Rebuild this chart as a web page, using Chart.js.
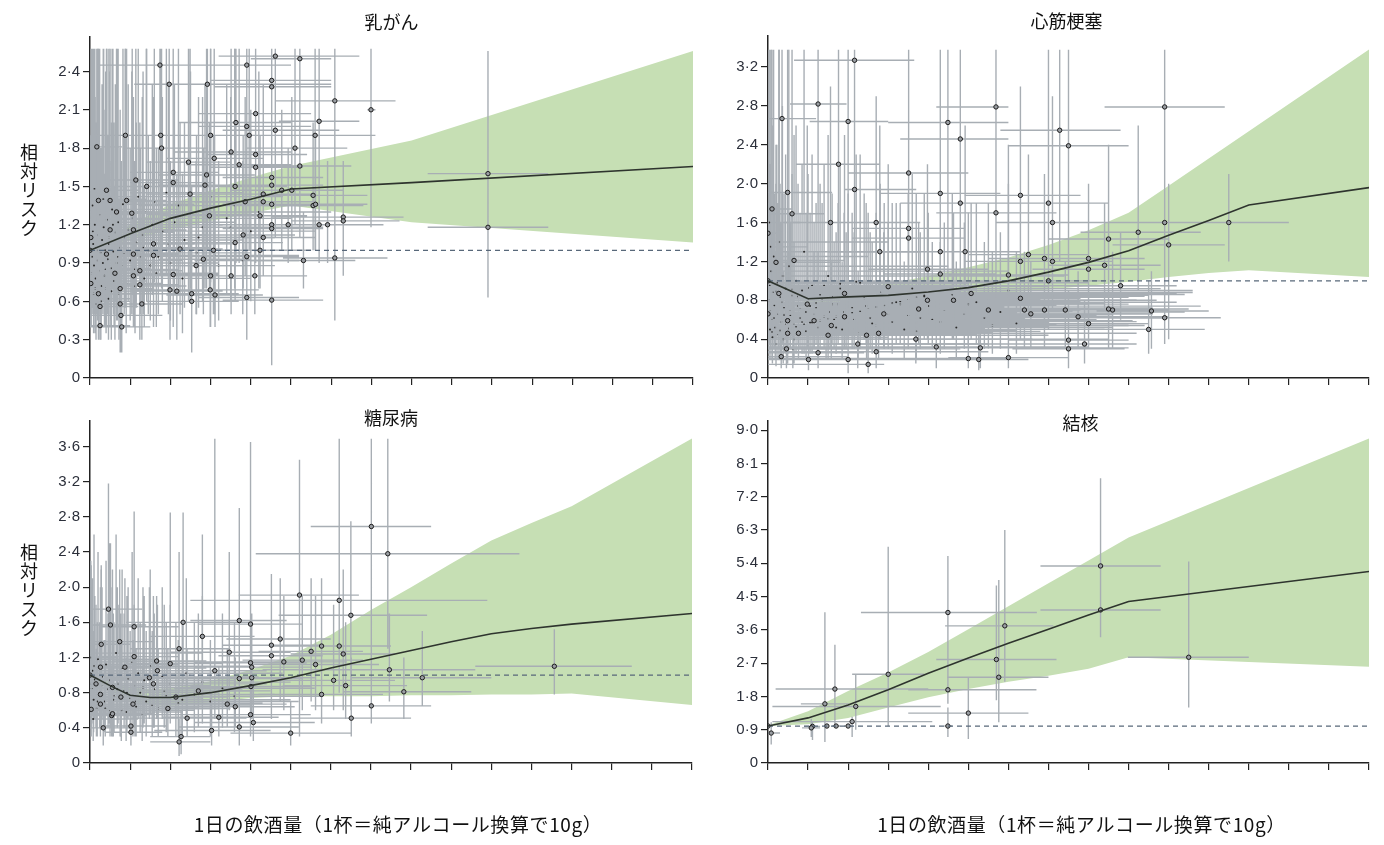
<!DOCTYPE html>
<html lang="ja">
<head>
<meta charset="utf-8">
<title>飲酒量と相対リスク</title>
<script src="https://cdn.jsdelivr.net/npm/chart.js@4.4.1/dist/chart.umd.min.js"></script>
<style>
  body { margin: 0; background: #fff; }
  canvas { position: absolute; }
</style>
</head>
<body>
<canvas id="cBreast" width="700" height="400" style="left:0;top:0"></canvas>
<canvas id="cHeart" width="684" height="400" style="left:700px;top:0"></canvas>
<canvas id="cDiab" width="700" height="445" style="left:0;top:400px"></canvas>
<canvas id="cTb" width="684" height="445" style="left:700px;top:400px"></canvas>

<script>
// ---- data ----
// x axis: drinks per day, 0..15
const xTicks = [0,1,2,3,4,5,6,7,8,9,10,11,12,13,14,15];
const xTitle = '1日の飲酒量（1杯＝純アルコール換算で10g）';
const yTitle = '相対リスク';

// study rows: [x, y, xLo, xHi, yLo, yHi]
// "...Rows" are the marked studies, "...Dense" the small ones in the grey mass

// 乳がん
const breastTicks = [0,0.3,0.6,0.9,1.2,1.5,1.8,2.1,2.4];
const breastNodes = [0,1,2,3,4,5,8,15];
const breastCurve = [1.0,1.13,1.25,1.33,1.40,1.48,1.53,1.656];
const breastUpper = [1.0,1.20,1.36,1.47,1.57,1.66,1.86,2.56];
const breastLower = [1.0,1.08,1.16,1.23,1.29,1.35,1.22,1.06];
const breastRows = [
  [1.74,2.45,0.2,3.2,1.0,2.58],[1.97,2.30,1.1,3.0,0.9,2.58],[2.92,2.30,2.2,6.0,1.0,2.58],
  [3.90,2.45,2.6,5.0,0.8,2.58],[4.61,2.52,3.2,6.7,1.1,2.58],[5.22,2.50,4.0,6.0,1.2,2.58],
  [4.52,2.33,3.0,6.0,1.0,2.58],[4.52,2.28,3.1,6.0,0.9,2.58],[6.09,2.17,4.6,7.6,0.6,2.58],
  [6.99,2.10,6.9,7.1,1.18,2.58],[4.12,2.07,2.7,5.5,1.0,2.58],[5.70,2.01,4.7,6.7,1.1,2.58],
  [3.63,2.00,2.2,5.0,0.9,2.58],[3.90,1.97,2.7,5.5,1.0,2.58],[4.61,1.94,3.3,6.2,1.1,2.58],
  [5.60,1.90,4.3,7.1,1.0,2.58],[0.88,1.90,0.1,2.0,0.6,2.58],[1.76,1.90,0.7,3.2,0.8,2.58],
  [3.00,1.90,1.8,4.4,0.8,2.58],[3.96,1.90,2.6,5.4,1.0,2.58],[1.78,1.80,0.9,2.9,0.7,2.58],
  [5.10,1.80,3.9,6.4,1.2,2.58],[3.51,1.77,2.1,5.0,0.7,2.58],[4.12,1.75,2.9,5.4,0.9,2.58],
  [3.09,1.72,1.9,4.3,0.8,2.58],[2.45,1.69,1.4,3.5,0.6,2.58],[3.71,1.67,2.4,5.0,0.9,2.58],
  [4.12,1.65,3.0,5.3,1.0,2.40],[5.22,1.66,4.0,6.5,1.1,2.58],[2.07,1.61,1.0,3.2,0.7,2.58],
  [2.90,1.59,1.7,4.1,0.7,2.58],[4.52,1.57,3.3,5.8,1.0,2.20],[1.41,1.50,0.5,2.4,0.6,2.58],
  [2.07,1.53,1.0,3.1,0.6,2.40],[2.86,1.51,1.7,4.0,0.7,2.30],[3.61,1.50,2.3,4.9,0.8,2.58],
  [4.52,1.51,3.2,5.8,1.0,2.20],[5.55,1.43,4.2,6.9,1.0,2.00],[4.31,1.44,3.0,5.6,0.9,2.30],
  [4.77,1.47,3.5,6.0,1.0,2.10],[2.49,1.44,1.4,3.6,0.6,2.58],[0.50,1.39,0.0,1.5,0.6,2.58],
  [0.91,1.39,0.2,1.9,0.7,2.58],[3.86,1.38,2.6,5.1,0.8,2.20],[5.55,1.35,4.3,6.8,1.0,1.90],
  [6.30,1.26,4.5,7.8,0.8,1.70],[6.30,1.23,5.0,7.7,0.8,1.70],[4.31,1.38,3.0,5.6,0.9,2.10],
  [4.52,1.36,3.3,5.7,1.0,2.00],[2.97,1.27,1.8,4.2,0.7,2.00],[4.23,1.27,3.0,5.4,0.9,1.90],
  [4.52,1.20,3.2,5.9,0.8,1.90],[4.93,1.20,3.7,6.2,0.9,1.80],[5.70,1.20,4.4,7.0,0.9,1.80],
  [5.91,1.20,4.6,7.3,0.9,1.70],[4.52,1.17,3.3,5.8,0.8,1.80],[3.81,1.12,2.6,5.1,0.7,1.90],
  [4.31,1.10,3.1,5.6,0.8,1.70],[3.61,1.06,2.4,4.8,0.6,1.80],[3.07,1.00,1.8,4.3,0.5,1.90],
  [1.58,1.05,0.6,2.6,0.5,2.10],[2.24,1.01,1.1,3.3,0.5,2.00],[4.23,1.00,3.0,5.5,0.7,1.60],
  [3.90,0.95,2.7,5.2,0.6,1.60],[2.82,0.93,1.7,4.0,0.5,1.80],[5.31,0.92,4.0,6.6,0.7,1.30],
  [6.09,0.94,4.8,7.4,0.45,1.30],[2.64,0.88,1.5,3.8,0.5,1.70],[1.58,0.96,0.6,2.6,0.4,2.20],
  [1.24,0.84,0.3,2.3,0.4,2.00],[2.07,0.81,1.0,3.2,0.4,1.80],[3.51,0.80,2.3,4.8,0.5,1.50],
  [4.10,0.80,2.9,5.4,0.5,1.40],[3.00,0.80,1.9,4.2,0.4,1.60],[1.08,0.80,0.2,2.1,0.4,1.90],
  [1.24,0.73,0.3,2.2,0.3,1.90],[1.99,0.69,1.0,3.1,0.3,1.70],[2.16,0.68,1.1,3.3,0.3,1.60],
  [2.53,0.66,1.4,3.7,0.3,1.50],[3.11,0.65,1.9,4.3,0.4,1.30],[2.99,0.69,1.8,4.2,0.4,1.40],
  [3.90,0.63,2.7,5.2,0.3,1.20],[4.52,0.61,3.3,5.8,0.1,1.30],[2.53,0.60,1.4,3.7,0.2,1.30],
  [1.29,0.58,0.4,2.3,0.3,1.40],[0.75,0.58,0.0,1.7,0.2,1.50],[0.25,0.56,0.0,1.2,0.3,1.70],
  [0.77,0.49,0.0,1.8,0.2,1.30],[0.79,0.40,0.0,1.5,0.2,1.00],[0.25,0.41,0.0,1.0,0.3,1.00],
  [0.21,0.66,0.0,1.0,0.3,2.30],[0.21,1.39,0.0,1.0,0.6,2.58],[0.17,1.81,0.0,0.8,0.6,2.58],
  [0.41,1.47,0.0,1.2,0.6,2.58],[1.14,1.55,0.3,2.2,0.6,2.58],[1.04,1.29,0.2,2.0,0.5,2.40],
  [0.66,1.30,0.0,1.6,0.5,2.58],[1.08,1.16,0.2,2.1,0.5,2.20],[0.50,1.16,0.0,1.5,0.4,2.40],
  [0.00,1.00,0.0,0.0,1.0,1.0],[0.02,1.10,0.0,0.6,0.6,1.90],[0.02,0.74,0.0,0.5,0.4,1.50],
  [0.41,0.97,0.0,1.3,0.4,2.20],[0.62,0.82,0.0,1.5,0.3,2.00],[0.75,0.70,0.0,1.6,0.3,1.80],
  [1.08,0.97,0.2,2.0,0.4,2.10],[5.02,1.47,3.8,6.3,1.0,2.2],[5.61,1.36,4.3,6.9,1.0,1.9],
  [9.90,1.60,8.4,11.4,0.95,2.56],[9.90,1.18,8.4,11.4,0.63,2.20]
];
const breastDense = [
  [0.05,0.95,0.0,0.4,0.55,1.6],[0.08,1.05,0.0,0.5,0.6,2.58],[0.10,0.88,0.0,0.6,0.5,1.7],
  [0.12,1.20,0.0,0.7,0.6,2.58],[0.14,0.78,0.0,0.5,0.45,1.5],[0.16,1.02,0.0,0.9,0.55,2.0],
  [0.18,0.92,0.0,0.8,0.5,1.9],[0.20,1.12,0.0,1.1,0.6,2.58],[0.22,0.84,0.0,0.9,0.45,1.6],
  [0.24,1.28,0.0,1.0,0.7,2.58],[0.26,0.98,0.0,1.2,0.5,1.8],[0.28,0.72,0.0,0.9,0.4,1.4],
  [0.30,1.08,0.0,1.4,0.6,2.3],[0.32,0.90,0.0,1.3,0.5,1.7],[0.34,1.18,0.0,1.5,0.6,2.58],
  [0.36,0.80,0.0,1.1,0.4,1.6],[0.38,1.00,0.0,1.6,0.5,2.1],[0.40,0.70,0.0,1.2,0.35,1.5],
  [0.42,1.24,0.0,1.8,0.7,2.58],[0.44,0.93,0.0,1.4,0.5,1.9],[0.46,0.62,0.0,1.0,0.3,1.3],
  [0.48,1.10,0.0,2.0,0.6,2.4],[0.52,0.86,0.0,1.5,0.45,1.7],[0.55,1.32,0.0,2.2,0.7,2.58],
  [0.58,0.99,0.0,1.8,0.5,2.0],[0.60,0.76,0.0,1.4,0.4,1.5],[0.63,1.14,0.0,2.1,0.6,2.3],
  [0.66,0.90,0.0,1.7,0.45,1.8],[0.70,1.22,0.0,2.4,0.65,2.58],[0.72,0.66,0.0,1.4,0.3,1.4],
  [0.75,1.02,0.0,2.0,0.55,2.1],[0.78,0.88,0.0,1.9,0.4,1.7],[0.82,1.36,0.1,2.6,0.7,2.58],
  [0.85,0.97,0.1,2.2,0.5,1.9],[0.90,0.74,0.1,1.8,0.35,1.5],[0.95,1.16,0.1,2.4,0.6,2.3],
  [1.00,0.92,0.2,2.3,0.45,1.8],[1.05,1.25,0.2,2.8,0.65,2.58],[1.10,0.85,0.2,2.2,0.4,1.7],
  [1.15,1.06,0.3,2.6,0.55,2.0],[1.20,1.42,0.3,3.0,0.8,2.58],[1.25,0.95,0.4,2.5,0.5,1.8],
  [1.30,1.12,0.4,2.9,0.6,2.2],[1.35,0.78,0.4,2.4,0.4,1.5],[1.40,1.30,0.5,3.2,0.7,2.58],
  [1.45,1.00,0.5,2.8,0.5,1.9],[1.50,0.88,0.6,2.6,0.45,1.7],[1.55,1.20,0.6,3.3,0.65,2.3],
  [1.60,1.38,0.7,3.6,0.75,2.58],[1.70,0.95,0.8,3.0,0.5,1.8],[1.80,1.15,0.9,3.4,0.6,2.2],
  [1.90,1.45,1.0,3.8,0.8,2.58],[2.00,0.90,1.0,3.2,0.45,1.7],[2.10,1.22,1.1,3.6,0.65,2.3],
  [2.20,1.35,1.2,3.9,0.7,2.58],[2.35,1.08,1.3,3.8,0.55,2.0],[2.50,1.28,1.4,4.2,0.7,2.4],
  [2.65,0.98,1.5,4.0,0.5,1.9],[2.80,1.18,1.6,4.5,0.6,2.2],[3.00,1.42,1.8,4.8,0.75,2.58],
  [3.20,0.88,2.0,4.6,0.45,1.7],[3.40,1.25,2.2,5.0,0.65,2.3],[3.60,1.35,2.4,5.4,0.7,2.58],
  [3.80,0.92,2.6,5.2,0.5,1.7],[4.00,1.15,2.8,5.6,0.6,2.1],[4.20,1.30,3.0,6.0,0.7,2.4],
  [0.06,1.35,0.0,0.5,0.7,2.58],[0.09,0.66,0.0,0.4,0.35,1.4],[0.11,1.48,0.0,0.6,0.75,2.58],
  [0.15,0.58,0.0,0.5,0.3,1.2],[0.03,0.82,0.0,0.6,0.4,2.58],[0.07,1.15,0.0,0.8,0.5,2.58],
  [0.13,0.70,0.0,0.9,0.35,2.2],[0.19,1.00,0.0,1.2,0.45,2.58],[0.27,0.60,0.0,1.0,0.3,1.8],
  [0.33,1.40,0.0,1.4,0.7,2.58],[0.39,0.85,0.0,1.6,0.4,2.4],[0.47,1.05,0.0,1.7,0.5,2.58],
  [0.53,0.68,0.0,1.5,0.3,2.0],[0.57,1.20,0.0,2.0,0.6,2.58],[0.68,0.95,0.0,2.2,0.45,2.58],
  [0.88,1.10,0.0,2.6,0.55,2.58],[1.12,0.72,0.2,2.4,0.35,1.7],[1.32,1.02,0.3,3.0,0.5,2.4],
  [1.65,0.82,0.6,3.2,0.4,1.8],[1.95,1.05,0.9,3.6,0.5,2.3],[2.30,0.78,1.2,4.0,0.35,1.6],
  [2.70,1.10,1.6,4.6,0.55,2.2],[3.10,0.96,2.0,5.2,0.5,1.9],[3.50,1.18,2.4,5.8,0.6,2.2]
];

// 心筋梗塞
const heartTicks = [0,0.4,0.8,1.2,1.6,2.0,2.4,2.8,3.2];
const heartNodes = [0,1,2,3,4,5,6,7,8,9,10,11,12,15];
const heartCurve = [1.0,0.816,0.835,0.85,0.885,0.93,1.0,1.09,1.19,1.31,1.47,1.62,1.78,1.96];
const heartUpper = [1.0,0.88,0.92,0.97,1.05,1.14,1.24,1.37,1.52,1.70,1.98,2.26,2.54,3.38];
const heartLower = [1.0,0.76,0.78,0.80,0.82,0.85,0.88,0.91,0.95,0.99,1.04,1.08,1.11,1.04];
const heartRows = [
  [2.16,3.27,0.65,3.65,0.4,3.38],[1.25,2.82,0.55,1.96,0.9,3.38],[0.35,2.67,0.0,1.2,0.6,3.38],
  [2.00,2.64,1.04,3.0,0.5,3.38],[4.49,2.63,3.0,6.0,1.0,3.38],[5.69,2.79,4.2,6.0,1.3,3.38],
  [4.80,2.46,3.3,6.0,1.0,3.38],[7.28,2.55,5.8,8.8,1.2,3.38],[7.50,2.39,6.0,9.0,1.0,3.38],
  [9.90,2.79,8.4,11.4,0.9,3.38],[1.76,2.20,0.7,2.8,0.6,3.38],[2.16,1.94,1.9,3.7,0.5,3.38],
  [3.51,2.11,2.0,5.0,0.7,3.38],[4.30,1.90,2.8,5.8,0.8,3.38],[0.49,1.91,0.0,1.6,0.4,3.38],
  [0.60,1.69,0.0,1.4,0.5,3.38],[1.56,1.60,0.4,2.5,0.4,3.0],[2.70,1.60,1.8,3.8,0.5,2.9],
  [4.80,1.80,3.3,6.0,0.7,3.38],[5.69,1.70,4.2,7.2,0.8,3.38],[6.30,1.88,4.9,7.8,0.9,3.0],
  [7.00,1.80,5.5,8.5,0.8,3.38],[7.10,1.60,5.7,8.6,0.7,2.9],[9.90,1.60,8.4,11.4,0.9,2.8],
  [11.5,1.60,10.0,13.0,1.2,2.1],[9.24,1.50,7.8,10.8,0.9,2.6],[10.0,1.37,8.6,11.4,0.4,2.0],
  [8.50,1.43,7.0,10.0,0.8,2.4],[4.30,1.30,2.9,5.8,0.5,2.5],[4.92,1.30,3.5,6.3,0.6,2.6],
  [3.51,1.54,2.1,4.9,0.5,3.0],[3.51,1.44,2.1,4.9,0.5,3.0],[2.79,1.30,1.5,4.1,0.4,2.6],
  [6.50,1.27,5.0,8.0,0.7,2.3],[6.30,1.20,4.9,7.7,0.6,2.3],[6.90,1.23,5.5,8.4,0.8,2.1],
  [7.10,1.20,5.6,8.6,0.7,2.2],[8.00,1.23,6.6,9.4,0.8,2.0],[8.00,1.12,6.6,9.4,0.7,1.9],
  [8.40,1.16,7.0,9.8,0.7,1.8],[3.98,1.12,2.5,5.5,0.5,2.2],[4.30,1.07,2.9,5.7,0.5,2.3],
  [7.00,1.00,5.6,8.4,0.5,2.0],[6.00,1.06,4.5,7.5,0.5,2.4],[0.00,1.49,0.0,0.3,0.9,3.38],
  [0.00,0.66,0.0,9.0,0.3,1.5],[0.00,1.00,0.0,0.0,1.0,1.0],[0.10,1.74,0.0,0.6,0.5,3.38],
  [0.20,1.19,0.0,1.8,0.4,2.4],[0.65,1.21,0.0,1.9,0.4,2.5],[8.80,0.95,7.4,10.2,0.6,1.5],
  [8.50,0.71,7.0,10.0,0.3,1.2],[8.60,0.70,7.2,10.0,0.3,1.3],[9.57,0.69,8.2,11.0,0.3,1.1],
  [9.90,0.62,8.5,11.3,0.35,1.6],[9.50,0.50,8.0,10.9,0.25,1.0],[8.00,0.56,6.5,9.5,0.3,1.0],
  [7.74,0.63,6.3,9.2,0.3,1.1],[7.42,0.70,0.0,9.0,0.3,1.2],[6.90,0.70,0.0,8.5,0.3,1.3],
  [6.40,0.70,0.0,8.0,0.3,1.3],[6.56,0.66,0.0,8.0,0.3,1.2],[6.30,0.82,0.0,7.8,0.4,1.4],
  [7.90,0.35,6.5,9.2,0.15,0.8],[7.50,0.39,6.0,9.0,0.15,0.9],[7.50,0.30,6.1,8.9,0.1,0.6],
  [6.00,0.21,4.5,7.5,0.1,0.5],[5.26,0.19,0.0,6.5,0.08,0.45],[5.00,0.20,0.0,6.0,0.1,0.5],
  [2.50,0.14,0.0,2.9,0.05,0.4],[2.00,0.19,0.0,3.0,0.05,0.5],[1.01,0.19,0.0,1.6,0.08,0.5],
  [1.25,0.26,0.0,2.4,0.1,0.6],[0.46,0.30,0.0,2.0,0.1,0.8],[0.76,0.46,0.0,4.0,0.2,1.0],
  [1.50,0.44,0.0,6.0,0.2,1.0],[2.46,0.44,0.0,7.0,0.2,0.9],[2.70,0.27,0.0,5.5,0.1,0.6],
  [3.69,0.40,0.0,8.5,0.15,0.9],[4.20,0.32,0.0,8.0,0.1,0.8],[5.30,0.31,0.0,9.0,0.1,0.7],
  [2.76,0.46,0.0,9.2,0.2,1.0],[1.58,0.54,0.0,9.4,0.2,1.2],[2.24,0.35,0.0,7.5,0.1,0.9],
  [0.33,0.22,0.0,2.0,0.1,0.6],[0.49,0.59,0.0,8.0,0.2,1.5],[1.15,0.59,0.0,9.1,0.3,1.3],
  [1.91,0.63,0.0,10.0,0.3,1.4],[2.89,0.66,0.0,9.6,0.3,1.5],[3.76,0.71,0.0,10.5,0.35,1.6],
  [4.63,0.80,0.0,9.7,0.4,1.7],[5.50,0.70,0.0,9.0,0.3,1.8],[5.07,0.87,0.0,10.2,0.4,1.8],
  [3.98,0.80,0.0,8.8,0.4,2.0],[3.00,0.94,0.0,7.0,0.5,2.2],[1.91,0.87,0.0,6.0,0.4,2.5],
  [0.98,0.76,0.0,8.0,0.3,2.6],[0.27,0.87,0.0,5.0,0.3,3.38],[0.49,0.46,0.0,8.5,0.15,1.2]
];
const heartDense = [
  [0.02,0.80,0.0,4.5,0.35,1.8],[0.04,0.95,0.0,5.5,0.45,2.2],[0.06,0.70,0.0,3.5,0.3,1.6],
  [0.08,1.10,0.0,6.0,0.5,3.38],[0.10,0.60,0.0,4.0,0.25,1.5],[0.12,0.88,0.0,7.0,0.4,2.6],
  [0.14,1.25,0.0,2.5,0.6,3.38],[0.16,0.75,0.0,6.5,0.3,1.9],[0.18,0.52,0.0,5.0,0.2,1.3],
  [0.22,0.98,0.0,8.0,0.45,2.4],[0.25,0.66,0.0,7.5,0.3,1.8],[0.28,1.40,0.0,3.0,0.7,3.38],
  [0.30,0.83,0.0,8.5,0.4,2.0],[0.33,0.58,0.0,6.0,0.25,1.6],[0.36,1.05,0.0,5.0,0.5,2.8],
  [0.40,0.72,0.0,9.0,0.3,1.9],[0.44,0.92,0.0,7.8,0.4,2.3],[0.48,0.48,0.0,6.8,0.2,1.2],
  [0.52,1.15,0.0,4.5,0.55,3.38],[0.56,0.64,0.0,8.2,0.3,1.6],[0.60,0.85,0.0,9.5,0.4,2.1],
  [0.65,0.55,0.0,7.2,0.25,1.4],[0.70,1.00,0.0,6.2,0.5,2.6],[0.75,0.74,0.0,9.8,0.35,1.8],
  [0.80,0.62,0.0,8.8,0.3,1.5],[0.85,0.90,0.0,7.6,0.45,2.2],[0.90,1.30,0.0,3.8,0.65,3.38],
  [0.95,0.68,0.0,10.2,0.3,1.7],[1.00,0.80,0.0,9.2,0.4,1.9],[1.05,0.57,0.0,7.0,0.25,1.4],
  [1.10,0.95,0.0,8.4,0.45,2.3],[1.20,0.72,0.1,9.6,0.35,1.8],[1.30,0.86,0.2,10.0,0.4,2.0],
  [1.40,0.63,0.2,8.0,0.3,1.6],[1.50,1.05,0.3,7.4,0.5,2.5],[1.60,0.76,0.4,9.0,0.35,1.8],
  [1.70,0.52,0.4,8.6,0.25,1.3],[1.80,0.92,0.5,9.8,0.45,2.1],[1.90,0.68,0.6,10.4,0.3,1.7],
  [2.00,0.84,0.7,9.4,0.4,1.9],[2.15,0.60,0.8,8.2,0.3,1.5],[2.30,0.98,0.9,7.8,0.5,2.3],
  [2.45,0.74,1.0,10.0,0.35,1.8],[2.60,0.56,1.2,9.0,0.25,1.4],[2.80,0.88,1.4,10.6,0.4,2.0],
  [3.00,0.66,1.6,9.6,0.3,1.6],[3.20,0.78,1.8,10.2,0.35,1.8],[3.40,0.50,2.0,8.4,0.2,1.2],
  [3.60,0.92,2.2,9.8,0.45,2.1],[3.80,0.62,2.4,10.0,0.3,1.5],[4.00,0.74,2.6,10.8,0.35,1.7],
  [4.30,0.58,2.9,9.2,0.25,1.4],[4.60,0.86,3.2,10.4,0.4,1.9],[4.90,0.66,3.5,9.6,0.3,1.6],
  [5.20,0.78,3.8,10.0,0.35,1.8],[5.60,0.54,4.2,9.0,0.25,1.3],[6.00,0.90,4.6,10.6,0.45,2.0],
  [0.03,1.60,0.0,0.8,0.8,3.38],[0.07,1.35,0.0,1.0,0.7,3.38],[0.11,0.42,0.0,3.0,0.15,1.2],
  [0.20,0.35,0.0,5.5,0.12,1.0],[0.38,0.40,0.0,6.5,0.15,1.1],[0.62,0.30,0.0,4.8,0.1,0.9],
  [0.05,0.50,0.0,5.8,0.2,1.3],[0.15,0.62,0.0,6.4,0.3,1.5],[0.25,0.45,0.0,5.2,0.2,1.1],
  [0.35,0.78,0.0,7.0,0.35,1.9],[0.45,0.55,0.0,6.0,0.25,1.3],[0.55,0.70,0.0,5.6,0.3,1.7],
  [0.65,0.40,0.0,6.6,0.15,1.0],[0.75,0.84,0.0,5.4,0.4,2.0],[0.85,0.58,0.0,7.4,0.25,1.4],
  [0.95,0.48,0.0,6.2,0.2,1.2],[1.05,0.74,0.0,5.9,0.35,1.7],[1.15,0.66,0.0,7.2,0.3,1.6],
  [1.25,0.52,0.0,5.5,0.2,1.3],[1.35,0.80,0.1,6.8,0.4,1.8],[1.45,0.44,0.1,5.3,0.2,1.1],
  [1.55,0.68,0.2,6.5,0.3,1.6],[1.65,0.60,0.3,7.6,0.3,1.4],[1.75,0.76,0.4,6.0,0.35,1.8],
  [1.85,0.50,0.5,5.8,0.2,1.2],[1.95,0.64,0.6,7.0,0.3,1.5],[2.10,0.72,0.8,6.6,0.35,1.7],
  [2.25,0.46,0.9,5.6,0.2,1.1],[2.40,0.82,1.0,7.3,0.4,1.9],[2.55,0.62,1.2,6.2,0.3,1.5],
  [2.70,0.54,1.3,6.9,0.25,1.3],[2.90,0.70,1.5,7.8,0.3,1.7],[3.10,0.58,1.7,6.4,0.25,1.4],
  [3.30,0.76,1.9,7.5,0.35,1.8],[3.50,0.64,2.1,6.8,0.3,1.5],[3.70,0.48,2.3,6.0,0.2,1.2],
  [3.90,0.84,2.5,8.0,0.4,1.9],[4.10,0.60,2.7,7.0,0.3,1.4],[4.40,0.70,3.0,7.6,0.3,1.6],
  [4.70,0.52,3.3,6.6,0.2,1.2],[5.00,0.76,3.6,8.2,0.35,1.7],[5.40,0.62,4.0,7.4,0.3,1.4],
  [5.80,0.68,4.4,7.8,0.3,1.5],[6.20,0.56,4.8,7.2,0.25,1.3],
  [0.10,0.47,0.0,5.6,0.2,1.2],[0.30,0.49,0.0,6.2,0.2,1.2],[0.50,0.51,0.0,5.4,0.25,1.3],
  [0.70,0.53,0.0,7.0,0.25,1.3],[0.90,0.55,0.0,6.0,0.25,1.4],[1.10,0.57,0.0,5.8,0.25,1.4],
  [1.30,0.59,0.1,7.4,0.3,1.5],[1.50,0.61,0.2,6.4,0.3,1.5],[1.70,0.63,0.3,5.6,0.3,1.5],
  [1.90,0.65,0.4,7.0,0.3,1.6],[2.10,0.67,0.6,6.2,0.3,1.6],[2.30,0.69,0.8,7.6,0.3,1.6],
  [2.50,0.71,1.0,6.6,0.35,1.7],[2.70,0.73,1.2,5.9,0.35,1.7],[2.90,0.75,1.4,7.2,0.35,1.8],
  [3.10,0.77,1.6,6.4,0.35,1.8],[3.30,0.79,1.8,7.8,0.4,1.8],[3.50,0.81,2.0,6.8,0.4,1.9],
  [3.70,0.83,2.2,6.0,0.4,1.9],[3.90,0.85,2.4,7.4,0.4,1.9],[0.20,0.89,0.0,4.8,0.45,2.0],
  [0.60,0.91,0.0,5.2,0.45,2.1],[1.00,0.93,0.0,4.6,0.45,2.1],[1.40,0.95,0.1,5.6,0.5,2.2],
  [1.80,0.97,0.4,5.0,0.5,2.2],[2.20,0.99,0.7,6.0,0.5,2.3],[0.40,0.65,0.0,8.6,0.3,1.6],
  [0.80,0.71,0.0,8.0,0.3,1.7],[1.20,0.77,0.0,8.4,0.35,1.8],[1.60,0.83,0.2,9.0,0.4,1.9]
];

// 糖尿病
const diabTicks = [0,0.4,0.8,1.2,1.6,2.0,2.4,2.8,3.2,3.6];
const diabNodes = [0,0.5,1,1.5,2,3,4,5,6,7,8,9,10,11,12,15];
const diabCurve = [1.0,0.88,0.77,0.745,0.745,0.80,0.88,0.97,1.08,1.18,1.28,1.38,1.47,1.53,1.58,1.70];
const diabUpper = [1.0,0.92,0.86,0.84,0.85,0.93,1.06,1.22,1.46,1.74,2.00,2.27,2.53,2.73,2.92,3.69];
const diabLower = [1.0,0.82,0.70,0.66,0.65,0.69,0.74,0.76,0.76,0.76,0.77,0.77,0.78,0.78,0.79,0.66];
const diabRows = [
  [7.01,2.69,5.5,8.5,1.4,3.69],[7.42,2.38,4.13,10.7,1.3,3.69],[5.22,1.91,3.7,6.7,0.3,3.45],
  [6.21,1.85,2.5,9.9,0.9,3.69],[6.50,1.68,4.7,8.4,0.6,2.75],[0.46,1.75,0.0,1.3,0.5,3.18],
  [0.51,1.57,0.0,1.4,0.4,2.5],[1.10,1.55,0.3,2.2,0.9,2.86],[2.32,1.60,0.9,4.0,0.9,2.85],
  [3.72,1.62,2.5,4.9,0.9,2.9],[4.00,1.58,2.7,5.3,0.7,3.65],[2.80,1.44,1.5,4.1,0.7,2.6],
  [2.22,1.30,1.0,3.5,0.8,2.4],[0.74,1.38,0.0,1.6,0.6,2.2],[0.28,1.35,0.0,1.0,0.5,2.25],
  [4.74,1.41,3.4,6.0,0.7,2.1],[4.52,1.34,3.3,5.8,0.6,2.15],[4.52,1.22,3.2,5.8,0.5,2.0],
  [5.77,1.33,4.5,7.0,0.8,2.1],[6.21,1.33,4.9,7.5,0.8,2.2],[5.51,1.27,4.2,6.8,0.7,2.1],
  [6.31,1.24,5.0,7.6,0.6,2.2],[1.10,1.21,0.2,2.2,0.5,2.0],[1.66,1.16,0.6,2.9,0.5,1.9],
  [2.00,1.13,0.9,3.3,0.6,2.85],[5.29,1.17,3.8,6.8,0.6,1.9],[5.62,1.12,4.0,7.2,0.6,1.9],
  [4.83,1.15,3.3,6.4,0.6,1.9],[4.00,1.14,2.6,5.4,0.6,1.8],[4.03,1.09,2.6,5.5,0.5,1.7],
  [3.47,1.26,2.0,5.0,0.6,2.4],[7.46,1.06,4.3,9.6,0.7,1.7],[11.57,1.10,9.6,13.5,0.78,1.52],
  [8.28,0.97,6.5,10.0,0.65,1.5],[3.72,0.96,2.2,5.3,0.5,1.7],[6.07,0.94,4.5,7.6,0.6,1.8],
  [4.01,0.87,2.5,5.5,0.5,1.5],[6.37,0.88,4.8,7.9,0.5,1.6],[5.77,0.78,4.2,7.3,0.45,1.5],
  [7.82,0.81,6.3,9.5,0.5,1.2],[7.01,0.65,5.5,8.5,0.45,1.5],[6.51,0.51,5.0,8.0,0.3,1.2],
  [5.00,0.34,3.5,6.5,0.2,0.7],[4.07,0.46,2.6,5.6,0.25,1.0],[4.00,0.55,2.5,5.5,0.3,1.2],
  [3.72,0.41,2.2,5.2,0.2,0.9],[3.03,0.37,1.6,4.5,0.2,0.8],[3.21,0.52,1.8,4.7,0.3,1.1],
  [2.42,0.51,1.0,3.9,0.3,1.3],[2.27,0.30,1.5,3.0,0.1,0.6],[2.22,0.24,1.5,3.0,0.08,0.5],
  [1.02,0.35,0.4,1.8,0.2,0.7],[1.02,0.42,0.3,1.9,0.2,0.9],[0.33,0.40,0.0,1.0,0.2,0.8],
  [0.54,0.54,0.0,1.4,0.3,1.1],[0.26,0.67,0.0,1.2,0.3,1.5],[0.26,0.78,0.0,1.2,0.4,1.7],
  [3.62,0.64,2.1,5.1,0.4,1.2],[3.42,0.67,2.0,4.9,0.4,1.3],[1.94,0.62,0.9,3.2,0.3,1.3],
  [1.07,0.67,0.2,2.2,0.3,1.4],[0.00,1.00,0.0,0.0,1.0,1.0],[0.03,0.61,0.0,0.8,0.3,2.25],
  [1.68,1.05,0.6,2.9,0.5,1.8],[1.58,0.90,0.5,2.8,0.4,1.9],[2.70,0.82,1.4,4.0,0.4,1.7],
  [2.14,0.75,1.0,3.4,0.3,1.6],[0.56,0.86,0.0,1.6,0.4,2.2],[1.48,0.97,0.4,2.6,0.5,2.0],
  [3.11,1.05,1.8,4.4,0.5,3.69],[0.87,1.09,0.0,2.0,0.5,2.1],[0.26,1.09,0.0,1.3,0.5,2.0],
  [0.15,0.90,0.0,1.1,0.4,1.8],[0.77,0.75,0.0,1.8,0.3,1.7],[0.56,0.56,0.0,1.6,0.3,1.5],
  [4.03,0.97,2.5,5.6,0.5,1.7]
];
const diabDense = [
  [0.04,0.85,0.0,0.8,0.45,1.7],[0.06,1.05,0.0,1.0,0.55,2.1],[0.09,0.72,0.0,0.9,0.35,1.5],
  [0.12,0.95,0.0,1.4,0.5,1.9],[0.16,0.62,0.0,1.1,0.3,1.3],[0.20,1.18,0.0,1.6,0.6,2.4],
  [0.24,0.80,0.0,1.5,0.4,1.6],[0.30,0.98,0.0,2.0,0.5,2.0],[0.35,0.70,0.0,1.7,0.35,1.4],
  [0.40,1.12,0.0,2.2,0.55,2.3],[0.45,0.84,0.0,2.0,0.4,1.7],[0.50,0.60,0.0,1.8,0.3,1.2],
  [0.55,1.00,0.0,2.5,0.5,2.0],[0.60,0.76,0.0,2.2,0.35,1.6],[0.65,1.25,0.0,2.8,0.6,2.6],
  [0.70,0.90,0.0,2.5,0.45,1.8],[0.75,0.66,0.0,2.2,0.3,1.4],[0.80,1.08,0.0,2.9,0.55,2.2],
  [0.85,0.82,0.0,2.6,0.4,1.7],[0.90,0.58,0.0,2.3,0.25,1.2],[0.95,0.96,0.0,3.0,0.5,2.0],
  [1.00,0.74,0.0,2.8,0.35,1.5],[1.05,1.15,0.0,3.4,0.55,2.4],[1.10,0.88,0.1,3.0,0.4,1.8],
  [1.15,0.64,0.1,2.7,0.3,1.3],[1.20,1.02,0.1,3.5,0.5,2.1],[1.25,0.80,0.2,3.2,0.35,1.6],
  [1.30,0.55,0.2,2.8,0.25,1.1],[1.35,0.94,0.3,3.6,0.45,1.9],[1.40,0.70,0.3,3.3,0.3,1.5],
  [1.50,1.10,0.4,4.0,0.55,2.2],[1.60,0.84,0.5,3.8,0.4,1.7],[1.70,0.62,0.6,3.5,0.3,1.3],
  [1.80,0.98,0.7,4.2,0.5,2.0],[1.90,0.76,0.8,4.0,0.35,1.6],[2.00,0.90,0.9,4.4,0.45,1.8],
  [2.20,0.68,1.1,4.3,0.3,1.4],[2.40,1.02,1.3,4.8,0.5,2.1],[2.60,0.78,1.5,4.6,0.35,1.6],
  [2.80,0.92,1.7,5.0,0.45,1.9],[3.00,0.70,1.9,5.2,0.3,1.4],[3.30,0.85,2.1,5.6,0.4,1.7],
  [3.60,0.76,2.4,5.8,0.35,1.6],[0.02,1.20,0.0,0.7,0.6,2.3],[0.08,0.50,0.0,1.2,0.25,1.1],
  [0.03,0.90,0.0,1.5,0.4,2.0],[0.10,1.10,0.0,2.0,0.5,2.6],[0.18,0.70,0.0,1.8,0.3,1.6],
  [0.28,0.88,0.0,2.4,0.4,2.2],[0.38,0.62,0.0,2.0,0.3,1.4],[0.48,0.94,0.0,2.8,0.45,2.5],
  [0.58,0.72,0.0,2.5,0.3,1.7],[0.68,0.84,0.0,3.0,0.4,2.0],[0.78,0.60,0.0,2.6,0.25,1.4],
  [0.92,0.80,0.0,3.2,0.35,1.9],[1.12,0.70,0.1,3.4,0.3,1.6],[1.32,0.86,0.2,3.8,0.4,2.0],
  [1.55,0.66,0.4,4.0,0.3,1.5],[1.85,0.82,0.7,4.5,0.4,1.8],[2.30,0.72,1.2,5.0,0.3,1.6]
];

// 結核
const tbTicks = [0,0.9,1.8,2.7,3.6,4.5,5.4,6.3,7.2,8.1,9.0];
const tbNodes = [0,1,2,3,4,5,6,7,8,9,15];
const tbCurve = [1.0,1.22,1.57,1.98,2.43,2.84,3.24,3.62,4.0,4.37,5.18];
const tbUpper = [1.02,1.40,1.95,2.45,3.0,3.62,4.24,4.86,5.48,6.10,8.78];
const tbLower = [1.0,1.05,1.22,1.50,1.78,2.0,2.2,2.36,2.55,2.86,2.60];
const tbRows = [
  [0.00,1.00,0.0,0.0,1.0,1.0],[0.08,0.81,0.0,0.3,0.5,1.1],[1.11,0.99,0.9,1.3,0.62,1.1],
  [1.08,0.95,0.85,1.3,0.7,1.2],[1.42,1.60,0.82,2.02,0.57,4.08],[1.47,1.00,1.4,1.5,1.0,1.0],
  [1.67,2.00,0.19,4.0,1.0,3.2],[1.70,1.00,1.6,1.8,1.0,1.0],[2.00,1.00,1.9,2.1,1.0,1.0],
  [2.10,1.12,0.11,4.1,0.7,1.25],[2.19,1.53,0.11,4.31,0.9,2.4],[3.00,2.40,2.1,3.9,1.0,5.85],
  [4.49,4.07,2.32,6.71,2.9,5.6],[4.49,1.98,3.5,6.7,1.6,5.6],[4.49,1.00,4.4,4.6,0.7,1.5],
  [5.00,1.35,3.5,6.5,0.65,2.3],[5.70,2.80,4.2,7.2,1.7,4.8],[5.76,2.32,4.47,7.0,1.1,4.95],
  [5.91,3.71,4.42,7.12,2.2,6.3],[8.30,5.33,6.8,9.8,3.5,7.7],[8.30,4.14,6.8,9.8,3.4,7.7],
  [10.50,2.86,8.98,12.0,1.5,5.45]
];
const tbDense = [];

// ---- drawing helpers ----
const GREEN = '#c6dfb4';
const BAR = '#a8aeb4';

function fmtTick(v) {
  return v === 0 ? '0' : v.toFixed(1).replace('.', '·');
}

// whiskers of each study, drawn just under its points
const errorBars = {
  id: 'errorBars',
  beforeDatasetDraw(chart, args, opts) {
    const ds = chart.data.datasets[args.index];
    if (!ds.rows) return;
    const {ctx, chartArea: a, scales: {x, y}} = chart;
    const top = y.getPixelForValue(opts.cap);
    ctx.save();
    ctx.beginPath();
    ctx.rect(a.left, top, a.right - a.left, a.bottom - top);
    ctx.clip();
    ctx.strokeStyle = BAR;
    ctx.lineWidth = 1.4;
    ctx.beginPath();
    ds.rows.forEach(([vx, vy, xLo, xHi, yLo, yHi]) => {
      const px = x.getPixelForValue(vx);
      const py = y.getPixelForValue(vy);
      if (yHi > yLo) {
        ctx.moveTo(px, y.getPixelForValue(yLo));
        ctx.lineTo(px, y.getPixelForValue(yHi));
      }
      if (xHi > xLo) {
        ctx.moveTo(x.getPixelForValue(xLo), py);
        ctx.lineTo(x.getPixelForValue(xHi), py);
      }
    });
    ctx.stroke();
    ctx.restore();
  }
};

// panel title, the stacked vertical y label and the x label
const panelText = {
  id: 'panelText',
  afterDraw(chart, args, opts) {
    const {ctx, chartArea: a} = chart;
    const mid = (a.left + a.right) / 2;
    ctx.save();
    ctx.fillStyle = '#111';
    ctx.font = '18px "Noto Sans CJK JP"';
    ctx.textAlign = 'center';
    ctx.textBaseline = 'middle';
    ctx.fillText(opts.title, mid + opts.dx, opts.titleY);
    if (opts.yLabel) {
      [...yTitle].forEach((ch, i) => ctx.fillText(ch, 29, opts.yLabelY + i * 19));
    }
    if (opts.xLabel) {
      ctx.font = '19px "Noto Sans CJK JP"';
      ctx.letterSpacing = '0.6px';
      ctx.fillText(xTitle, mid + opts.xdx, opts.xLabelY);
    }
    ctx.restore();
  }
};

function pts(nodes, vals) {
  return nodes.map((x, i) => ({x: x, y: vals[i]}));
}

function makePanel(id, p) {
  new Chart(document.getElementById(id), {
    data: {
      datasets: [
        { type: 'line', data: pts(p.nodes, p.curve), borderColor: '#2e342e', borderWidth: 1.6,
          pointRadius: 0, order: 0 },
        { type: 'line', data: pts([0, 15], [1, 1]), borderColor: '#58687a', borderWidth: 1.2,
          borderDash: [5, 4], pointRadius: 0, order: 1 },
        { type: 'scatter', rows: p.rows, data: p.rows.map(r => ({x: r[0], y: r[1]})),
          pointRadius: 2.2, backgroundColor: '#9a9ea3', borderColor: '#1c1c1c', borderWidth: 1, order: 2 },
        { type: 'scatter', rows: p.dense, data: p.dense.map(r => ({x: r[0], y: r[1]})),
          pointRadius: 1, backgroundColor: '#2a2a2a', borderWidth: 0, order: 2.5 },
        { type: 'line', data: pts(p.nodes, p.upper), borderColor: 'rgba(0,0,0,0)', borderWidth: 0,
          pointRadius: 0, backgroundColor: GREEN, fill: '+1', order: 3 },
        { type: 'line', data: pts(p.nodes, p.lower), borderColor: 'rgba(0,0,0,0)', borderWidth: 0,
          pointRadius: 0, fill: false, order: 4 }
      ]
    },
    options: {
      responsive: false,
      animation: false,
      layout: { padding: { top: p.top, right: p.right, left: 0, bottom: 0 } },
      plugins: {
        legend: { display: false },
        tooltip: { enabled: false },
        errorBars: { cap: p.cap },
        panelText: { title: p.title, dx: p.dx, titleY: p.titleY, yLabel: p.yLabel, yLabelY: 152,
                     xLabel: p.xTitle, xdx: p.xdx, xLabelY: 425 }
      },
      scales: {
        x: {
          type: 'linear', min: 0, max: 15, z: 1,
          afterBuildTicks(s) { s.ticks = xTicks.map(v => ({value: v})); },
          ticks: { display: false },
          grid: { drawOnChartArea: false, tickLength: 7, color: '#222', lineWidth: 1.2 },
          border: { color: '#222', width: 1.5 },
          afterFit(s) { s.height = p.xh; }
        },
        y: {
          type: 'linear', min: 0, max: p.yMax, z: 1,
          afterBuildTicks(s) { s.ticks = p.ticks.map(v => ({value: v})); },
          ticks: { autoSkip: false, padding: 3, color: '#2b2f3a', callback: v => fmtTick(v),
                   font: { family: '"Liberation Sans"', size: 15 } },
          grid: { drawOnChartArea: false, tickLength: 7, color: '#222', lineWidth: 1.2 },
          border: { color: '#222', width: 1.5 },
          afterFit(s) { s.width = p.yw; }
        }
      }
    },
    plugins: [errorBars, panelText]
  });
}

makePanel('cBreast', { title: '乳がん', dx: 0, titleY: 22, yLabel: true,
  nodes: breastNodes, curve: breastCurve, upper: breastUpper, lower: breastLower,
  rows: breastRows, dense: breastDense,
  ticks: breastTicks, yMax: 2.67, cap: 2.58, top: 37, right: 7, yw: 90, xh: 22, xTitle: false });

makePanel('cHeart', { title: '心筋梗塞', dx: -2, titleY: 21, yLabel: false,
  nodes: heartNodes, curve: heartCurve, upper: heartUpper, lower: heartLower,
  rows: heartRows, dense: heartDense,
  ticks: heartTicks, yMax: 3.52, cap: 3.38, top: 36, right: 15, yw: 68, xh: 22, xTitle: false });

makePanel('cDiab', { title: '糖尿病', dx: 0, titleY: 18, yLabel: true,
  nodes: diabNodes, curve: diabCurve, upper: diabUpper, lower: diabLower,
  rows: diabRows, dense: diabDense,
  ticks: diabTicks, yMax: 3.89, cap: 3.69, top: 21, right: 8, yw: 90, xh: 82, xTitle: true, xdx: 7 });

makePanel('cTb', { title: '結核', dx: 12, titleY: 23, yLabel: false,
  nodes: tbNodes, curve: tbCurve, upper: tbUpper, lower: tbLower,
  rows: tbRows, dense: tbDense,
  ticks: tbTicks, yMax: 9.25, cap: 9.25, top: 21, right: 15, yw: 68, xh: 82, xTitle: true, xdx: 13 });
</script>
</body>
</html>
